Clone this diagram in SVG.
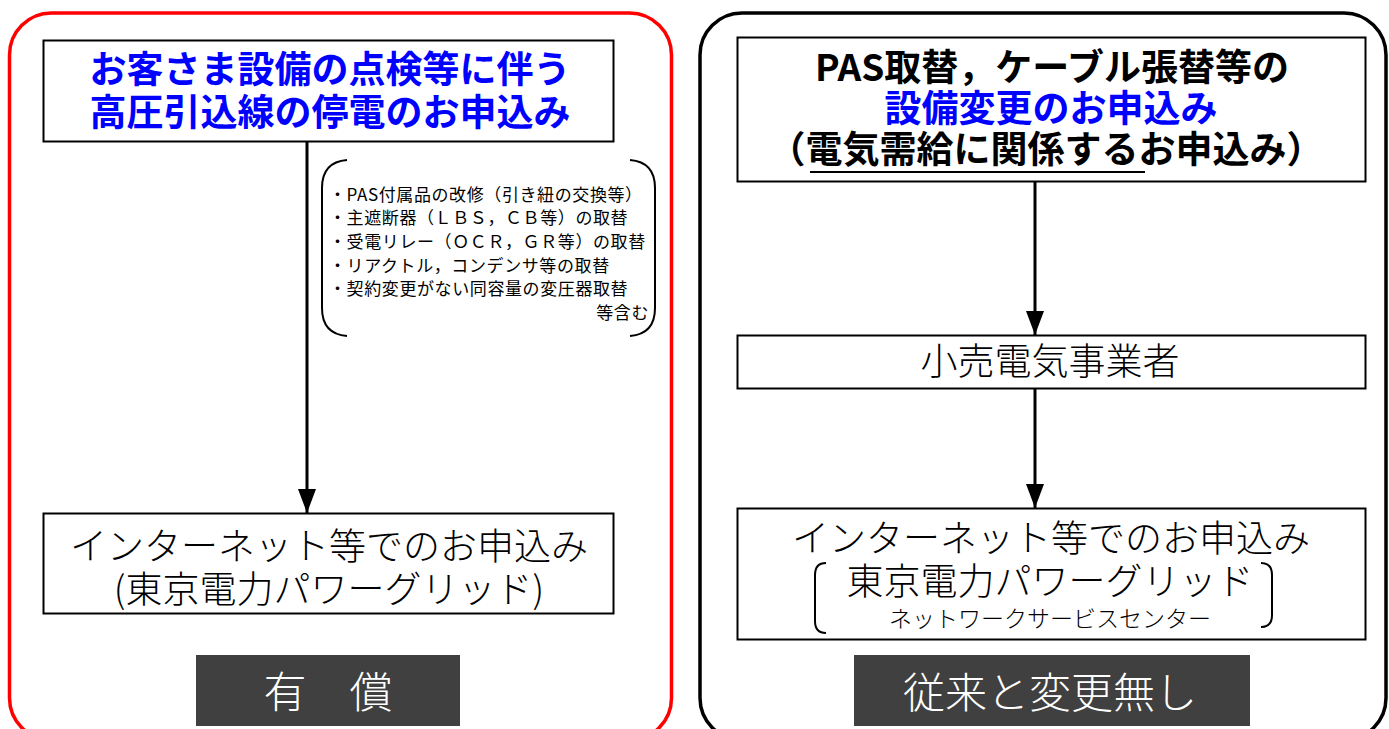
<svg xmlns="http://www.w3.org/2000/svg" width="1389" height="729" viewBox="0 0 1389 729">
<style>
.box{fill:#fff;stroke:#000;stroke-width:2}
.dark{fill:#404040}
.t{font-family:"Noto Sans CJK JP","Noto Sans",sans-serif;text-anchor:middle}
.b{font-weight:bold}
.l{font-weight:300}
.blue{fill:#0000ff}
.blk{fill:#000}
.wh{fill:#fff}
.note{font-family:"Noto Sans CJK JP","Noto Sans",sans-serif;font-size:17px;letter-spacing:0.6px;fill:#000}
.conn{stroke:#000;stroke-width:3;fill:none}
.br{stroke:#000;stroke-width:2;fill:none}
</style>
<defs>
<marker id="arr" markerWidth="8" markerHeight="6" refX="8" refY="3" orient="auto" markerUnits="strokeWidth">
<path d="M0,0 L8,3 L0,6 Z" fill="#000"/>
</marker>
</defs>
<rect width="1389" height="729" fill="#fff"/>

<g id="frame-left">
<rect x="9.5" y="13" width="662" height="727" rx="42" ry="42" fill="none" stroke="#ff0000" stroke-width="3.5"/>
</g>
<g id="frame-right">
<rect x="700" y="13" width="686" height="727" rx="42" ry="42" fill="none" stroke="#000" stroke-width="3.5"/>
</g>

<g id="connectors">
<line class="conn" x1="307" y1="142" x2="307" y2="513" marker-end="url(#arr)"/>
<line class="conn" x1="1035" y1="182" x2="1035" y2="335" marker-end="url(#arr)"/>
<line class="conn" x1="1035" y1="389" x2="1035" y2="508" marker-end="url(#arr)"/>
</g>

<g id="n-left-top">
<rect class="box" x="43.5" y="40.5" width="570" height="101"/>
<text class="t b blue" x="330" y="83" font-size="37">お客さま設備の点検等に伴う</text>
<text class="t b blue" x="330" y="126" font-size="37">高圧引込線の停電のお申込み</text>
</g>

<g id="n-note">
<path class="br" d="M347,160 Q322,162 322,188 L322,308 Q322,334 347,336"/>
<path class="br" d="M630,160 Q655,162 655,188 L655,308 Q655,334 630,336"/>
<text class="note" x="329" y="201">・PAS付属品の改修（引き紐の交換等）</text>
<text class="note" x="329" y="224">・主遮断器（ＬＢＳ，ＣＢ等）の取替</text>
<text class="note" x="329" y="248">・受電リレー（ＯＣＲ，ＧＲ等）の取替</text>
<text class="note" x="329" y="272">・リアクトル，コンデンサ等の取替</text>
<text class="note" x="329" y="295">・契約変更がない同容量の変圧器取替</text>
<text class="note" x="649" y="319" text-anchor="end">等含む</text>
</g>

<g id="n-left-bottom">
<rect class="box" x="43.5" y="513.5" width="570" height="100"/>
<text class="t l blk" x="329" y="560" font-size="37">インターネット等でのお申込み</text>
<text class="t l blk" x="329" y="603" font-size="37">(東京電力パワーグリッド)</text>
</g>

<g id="n-left-label">
<rect class="dark" x="196" y="655" width="264" height="71"/>
<text class="t l wh" x="328" y="708" font-size="43">有　償</text>
</g>

<g id="n-right-top">
<rect class="box" x="737.5" y="37.5" width="628" height="144"/>
<text class="t b blk" x="1052" y="81" font-size="37">PAS取替，ケーブル張替等の</text>
<text class="t b blue" x="1051" y="122" font-size="37">設備変更のお申込み</text>
<text class="t b blk" x="1046" y="163" font-size="37">（電気需給に関係するお申込み）</text>
<line x1="810" y1="172" x2="1145" y2="172" stroke="#000" stroke-width="2"/>
</g>

<g id="n-retailer">
<rect class="box" x="737.5" y="335.5" width="628" height="53"/>
<text class="t l blk" x="1050" y="375" font-size="37">小売電気事業者</text>
</g>

<g id="n-right-bottom">
<rect class="box" x="737.5" y="508.5" width="628" height="131"/>
<text class="t l blk" x="1051" y="552" font-size="37">インターネット等でのお申込み</text>
<text class="t l blk" x="1050" y="595" font-size="37">東京電力パワーグリッド</text>
<text class="t l blk" x="1050" y="627" font-size="23">ネットワークサービスセンター</text>
<path class="br" d="M826,563 Q815,563 815,575 L815,621 Q815,633 826,633"/>
<path class="br" d="M1261,563 Q1272,563 1272,575 L1272,615 Q1272,627 1261,627"/>
</g>

<g id="n-right-label">
<rect class="dark" x="854" y="655" width="396" height="71"/>
<text class="t l wh" x="1050" y="708" font-size="42">従来と変更無し</text>
</g>
</svg>
